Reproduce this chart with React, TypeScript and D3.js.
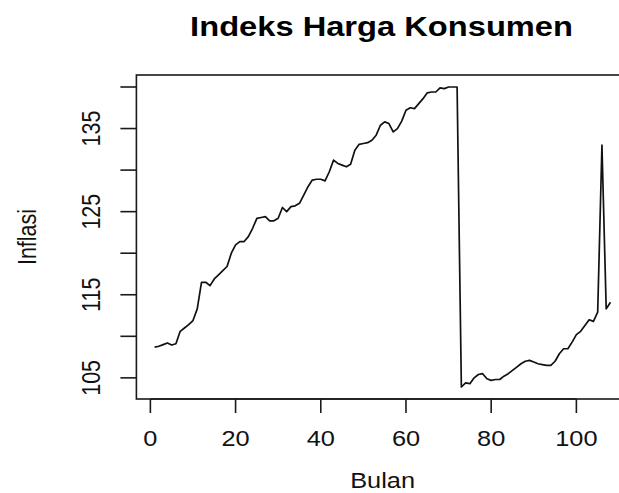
import React from "react";
import * as d3 from "d3";

const W = 619;
const H = 493;

const chartTitle = "Indeks Harga Konsumen";
const xTitle = "Bulan";
const yTitle = "Inflasi";

const months: number[] = Array.from({ length: 108 }, (_, i) => i + 1);
const inflasi: number[] = [
  108.7, 108.8, 109.0, 109.2, 108.95, 109.1, 110.6, 111.0, 111.4, 111.9,
  113.3, 116.5, 116.5, 116.1, 116.9, 117.4, 117.9, 118.4, 120.0, 121.0,
  121.4, 121.4, 122.0, 123.0, 124.2, 124.3, 124.4, 123.9, 123.9, 124.2,
  125.5, 125.0, 125.6, 125.7, 126.0, 127.0, 128.0, 128.8, 128.9, 128.9,
  128.7, 129.8, 131.2, 130.8, 130.6, 130.4, 130.7, 132.4, 133.1, 133.2,
  133.3, 133.6, 134.2, 135.4, 135.8, 135.6, 134.6, 135.0, 135.9, 137.2,
  137.5, 137.4, 138.0, 138.6, 139.3, 139.4, 139.4, 139.9, 139.8, 140.0,
  140.0, 140.0, 103.9, 104.4, 104.3, 105.0, 105.4, 105.5, 104.9, 104.7,
  104.8, 104.8, 105.2, 105.5, 105.9, 106.3, 106.7, 107.0, 107.1, 106.9,
  106.7, 106.6, 106.5, 106.5, 107.0, 107.9, 108.5, 108.5, 109.3, 110.2,
  110.6, 111.3, 112.0, 111.8, 112.9, 133.0, 113.3, 114.1,
];

const xTicks: number[] = [0, 20, 40, 60, 80, 100];
const yTicks: number[] = [105, 110, 115, 120, 125, 130, 135, 140];
const yTickLabels: number[] = [105, 115, 125, 135];

export default function App() {
  const left = 136.4;
  const right = 628.7;
  const top = 75;
  const bottom = 399;
  const stretch = 1.18;

  const xExt = d3.extent(months) as [number, number];
  const xPad = (xExt[1] - xExt[0]) * 0.04;
  const x = d3.scaleLinear().domain([xExt[0] - xPad, xExt[1] + xPad]).range([left, right]);

  const yExt = d3.extent(inflasi) as [number, number];
  const yPad = (yExt[1] - yExt[0]) * 0.04;
  const y = d3.scaleLinear().domain([yExt[0] - yPad, yExt[1] + yPad]).range([bottom, top]);

  const line = d3
    .line<number>()
    .x((_, i) => x(months[i]))
    .y((d) => y(d));

  const font = "'Liberation Sans', Arial, sans-serif";
  const axisFs = 21.5;
  const col = "#1a1a1a";

  return (
    <svg
      width={W}
      height={H}
      style={{ position: "absolute", left: 0, top: 0, background: "#fff" }}
      fontFamily={font}
    >
      <rect x={0} y={0} width={W} height={H} fill="#fff" />
      {/* box */}
      <rect x={left} y={top} width={right - left} height={bottom - top} fill="none" stroke={col} strokeWidth={1.6} />
      {/* data */}
      <path d={line(inflasi) || ""} fill="none" stroke="#111" strokeWidth={1.7} strokeLinejoin="round" />
      {/* x axis */}
      <line x1={x(xTicks[0])} x2={x(xTicks[xTicks.length - 1])} y1={bottom} y2={bottom} stroke={col} strokeWidth={1.6} />
      {xTicks.map((t) => (
        <g key={"xt" + t}>
          <line x1={x(t)} x2={x(t)} y1={bottom} y2={bottom + 14} stroke={col} strokeWidth={1.6} />
          <text
            transform={`translate(${x(t)},${446}) scale(${stretch},1)`}
            textAnchor="middle"
            fontSize={axisFs}
            fill="#111"
          >
            {t}
          </text>
        </g>
      ))}
      {/* y axis */}
      {yTicks.map((t) => (
        <line key={"yt" + t} x1={left - 16} x2={left} y1={y(t)} y2={y(t)} stroke={col} strokeWidth={1.6} />
      ))}
      {yTickLabels.map((t) => (
        <text
          key={"yl" + t}
          transform={`translate(${100},${y(t)}) scale(${stretch},1) rotate(-90)`}
          textAnchor="middle"
          fontSize={axisFs}
          fill="#111"
        >
          {t}
        </text>
      ))}
      {/* titles */}
      <text
        transform={`translate(${(left + right) / 2 - 1},${36}) scale(1.21,1)`}
        textAnchor="middle"
        fontSize={27}
        fontWeight="bold"
        fill="#000"
      >
        {chartTitle}
      </text>
      <text
        transform={`translate(${(left + right) / 2},${488}) scale(${stretch},1)`}
        textAnchor="middle"
        fontSize={axisFs}
        fill="#111"
      >
        {xTitle}
      </text>
      <text
        transform={`translate(${36},${(top + bottom) / 2}) scale(${stretch},1) rotate(-90)`}
        textAnchor="middle"
        fontSize={axisFs}
        fill="#111"
      >
        {yTitle}
      </text>
    </svg>
  );
}
